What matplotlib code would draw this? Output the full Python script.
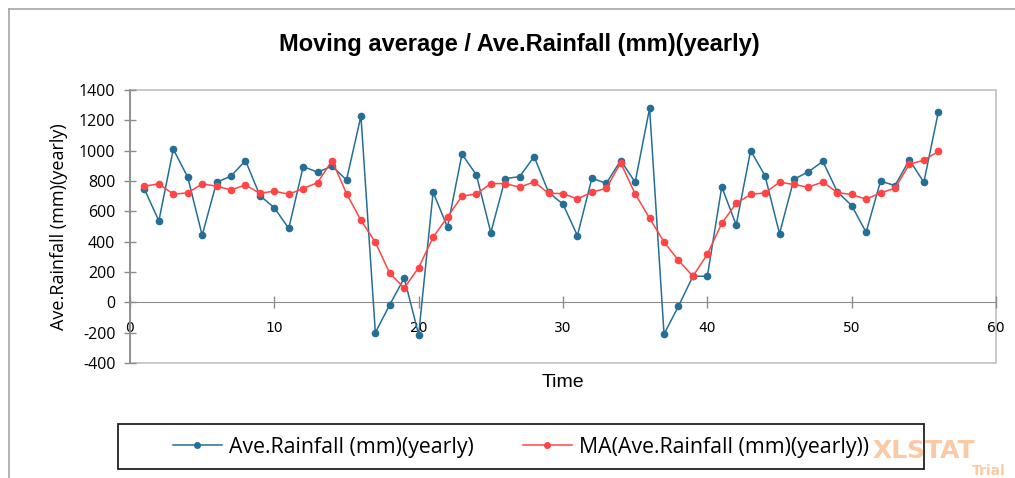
import numpy as np
import matplotlib
matplotlib.use('Agg')
from matplotlib import pyplot as plt
from matplotlib.lines import Line2D
from matplotlib.patches import Rectangle

# yearly series
time = list(range(1, 57))
rainfall = [746, 537, 1010, 825, 442, 792, 832, 935, 704, 623,
            488, 895, 858, 898, 807, 1228, -200, -15, 160, -213,
            726, 495, 977, 840, 460, 816, 829, 961, 725, 647,
            440, 818, 785, 935, 792, 1280, -209, -26, 172, 172,
            761, 510, 1001, 834, 453, 812, 860, 930, 730, 638,
            462, 799, 770, 939, 792, 1252]
moving_avg = [766, 781, 713, 722, 781, 766, 741, 774, 719, 733,
              713, 750, 790, 935, 717, 541, 396, 191, 95, 229,
              429, 563, 700, 715, 783, 783, 759, 794, 719, 717,
              682, 726, 752, 920, 715, 554, 398, 277, 172, 317,
              521, 653, 711, 722, 792, 777, 759, 794, 724, 711,
              680, 722, 752, 911, 937, 995]
series_names = ['Ave.Rainfall (mm)(yearly)', 'MA(Ave.Rainfall (mm)(yearly))']

BLUE = '#256f96'
RED = '#ff4545'
W, H = 1015, 478

fig = plt.figure(figsize=(W / 100, H / 100), dpi=100)
ax = fig.add_axes([130 / W, 1 - 363 / H, (996 - 130) / W, (363 - 90) / H])

ax.plot(time, rainfall, color=BLUE, lw=1.1, marker='o', ms=4.5, zorder=3)
ax.plot(time, moving_avg, color=RED, lw=1.1, marker='o', ms=4.5, zorder=4)

ax.set_xlim(0, 60)
ax.set_ylim(-400, 1400)
ax.set_xticks(np.arange(0, 61, 10))
ax.set_yticks(np.arange(-400, 1401, 200))

tick_font = dict(family=['Open Sans', 'DejaVu Sans'], size=11.5)
ax.set_xticklabels([str(v) for v in range(0, 61, 10)], **tick_font)
ax.set_yticklabels([str(v) for v in range(-400, 1401, 200)], **tick_font)

# x axis crosses at zero, plot area framed in light gray
for s in ['top', 'right']:
    ax.spines[s].set_visible(False)
ax.spines['bottom'].set_position(('data', 0))
ax.spines['bottom'].set_color('#8c8c8c')
ax.spines['left'].set_color('#8c8c8c')
ax.spines['left'].set_linewidth(1.3)
ax.add_patch(Rectangle((0, 0), 1, 1, transform=ax.transAxes, fill=False,
                       edgecolor='#c0c0c0', lw=1.2, clip_on=False, zorder=0))
ax.tick_params(axis='both', direction='inout', length=9, color='#8c8c8c', width=1)
ax.tick_params(axis='x', pad=9)
ax.tick_params(axis='y', pad=6)

ax.set_xlabel('Time', family=['Liberation Sans', 'DejaVu Sans'], size=14)
ax.xaxis.set_label_coords(0.5, -0.04)
ax.set_ylabel('Ave.Rainfall (mm)(yearly)', family=['Open Sans', 'DejaVu Sans'], size=13)
ax.yaxis.set_label_coords(-0.072, 0.5)

fig.text(0.512, 1 - 45 / H, 'Moving average / Ave.Rainfall (mm)(yearly)',
         ha='center', va='center', weight='bold', size=17,
         family=['Liberation Sans Narrow', 'Liberation Sans', 'DejaVu Sans'])

# outer chart border (left and top only visible)
fig.add_artist(Line2D([9 / W, 9 / W], [0, 1 - 9 / H], color='#a6a6a6', lw=1.2))
fig.add_artist(Line2D([9 / W, 1], [1 - 9 / H, 1 - 9 / H], color='#a6a6a6', lw=1.2))

# legend frame and entries
fig.add_artist(Rectangle((118 / W, 1 - 469 / H), (924 - 118) / W, 45 / H,
                         transform=fig.transFigure, fill=False, edgecolor='#222222', lw=1.3))
handles = [Line2D([], [], color=BLUE, lw=1.1, marker='o', ms=4),
           Line2D([], [], color=RED, lw=1.1, marker='o', ms=4)]
fig.legend(handles, series_names, loc='center', bbox_to_anchor=(521 / W, 1 - 447 / H),
           ncol=2, frameon=False, handlelength=2.3, handletextpad=0.35, columnspacing=2.3,
           prop={'family': ['Open Sans', 'DejaVu Sans'], 'size': 15.3})

# trial watermark
fig.text(873 / W, 1 - 451 / H, 'XLSTAT', color='#f7a66a', alpha=0.6, size=18,
         weight='bold', family=['DejaVu Sans'], va='center', ha='left')
fig.text(972 / W, 1 - 478 / H, 'Trial', color='#f7a66a', alpha=0.6, size=10,
         weight='bold', family=['DejaVu Sans'], va='bottom', ha='left')

fig.savefig('out.png', dpi=100)
